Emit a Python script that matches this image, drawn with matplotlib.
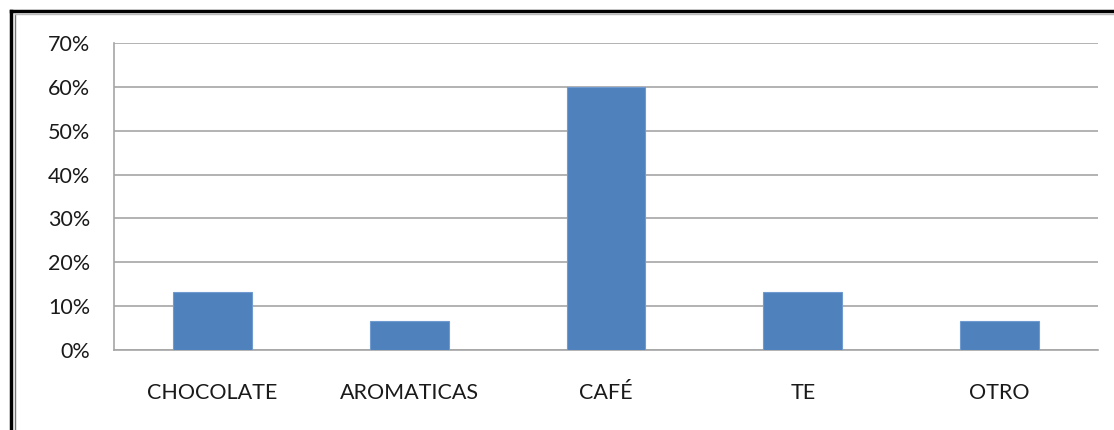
import matplotlib.pyplot as plt
from matplotlib.lines import Line2D
from matplotlib.ticker import FuncFormatter

categorias = ['CHOCOLATE', 'AROMATICAS', 'CAFÉ', 'TE', 'OTRO']
porcentajes = [13.3, 6.7, 60.0, 13.3, 6.7]
marcas_y = [0, 10, 20, 30, 40, 50, 60, 70]

plt.rcParams['font.family'] = ['Lato', 'DejaVu Sans']

fig = plt.figure(figsize=(11.14, 4.30), dpi=100)
ax = fig.add_axes([114 / 1114, 1 - 350 / 430, (1098 - 114) / 1114, (350 - 43) / 430])

x = range(len(categorias))
ax.bar(x, porcentajes, width=0.4, color='#4F81BD', edgecolor='#6F9BD0', linewidth=0.8, zorder=3)

ax.set_xlim(-0.5, len(categorias) - 0.5)
ax.set_ylim(0, 70)
ax.set_yticks(marcas_y)
ax.yaxis.set_major_formatter(FuncFormatter(lambda v, p: f'{v:.0f}%'))
ax.set_xticks(list(x))
ax.set_xticklabels(categorias)
ax.tick_params(axis='both', length=0, labelsize=15.5, colors='#1a1a1a')
ax.tick_params(axis='y', pad=17)
ax.tick_params(axis='x', pad=24)

ax.grid(axis='y', color='#A6A6A6', linewidth=1.2, zorder=0)
for lado in ['top', 'right']:
    ax.spines[lado].set_visible(False)
ax.spines['left'].set_color('#A6A6A6')
ax.spines['bottom'].set_color('#A6A6A6')
ax.spines['left'].set_linewidth(1.2)
ax.spines['bottom'].set_linewidth(1.2)

# marco exterior del gráfico (negro grueso y gris fino)
fig.add_artist(Line2D([11 / 1114, 11 / 1114], [0, 1 - 11 / 430], color='black', linewidth=2.5))
fig.add_artist(Line2D([11 / 1114, 1], [1 - 11 / 430, 1 - 11 / 430], color='black', linewidth=2.5))
fig.add_artist(Line2D([14.5 / 1114, 14.5 / 1114], [0, 1 - 13.5 / 430], color='#777777', linewidth=1))
fig.add_artist(Line2D([14.5 / 1114, 1], [1 - 13.5 / 430, 1 - 13.5 / 430], color='#BBBBBB', linewidth=1))

fig.savefig('out.png', dpi=100)
